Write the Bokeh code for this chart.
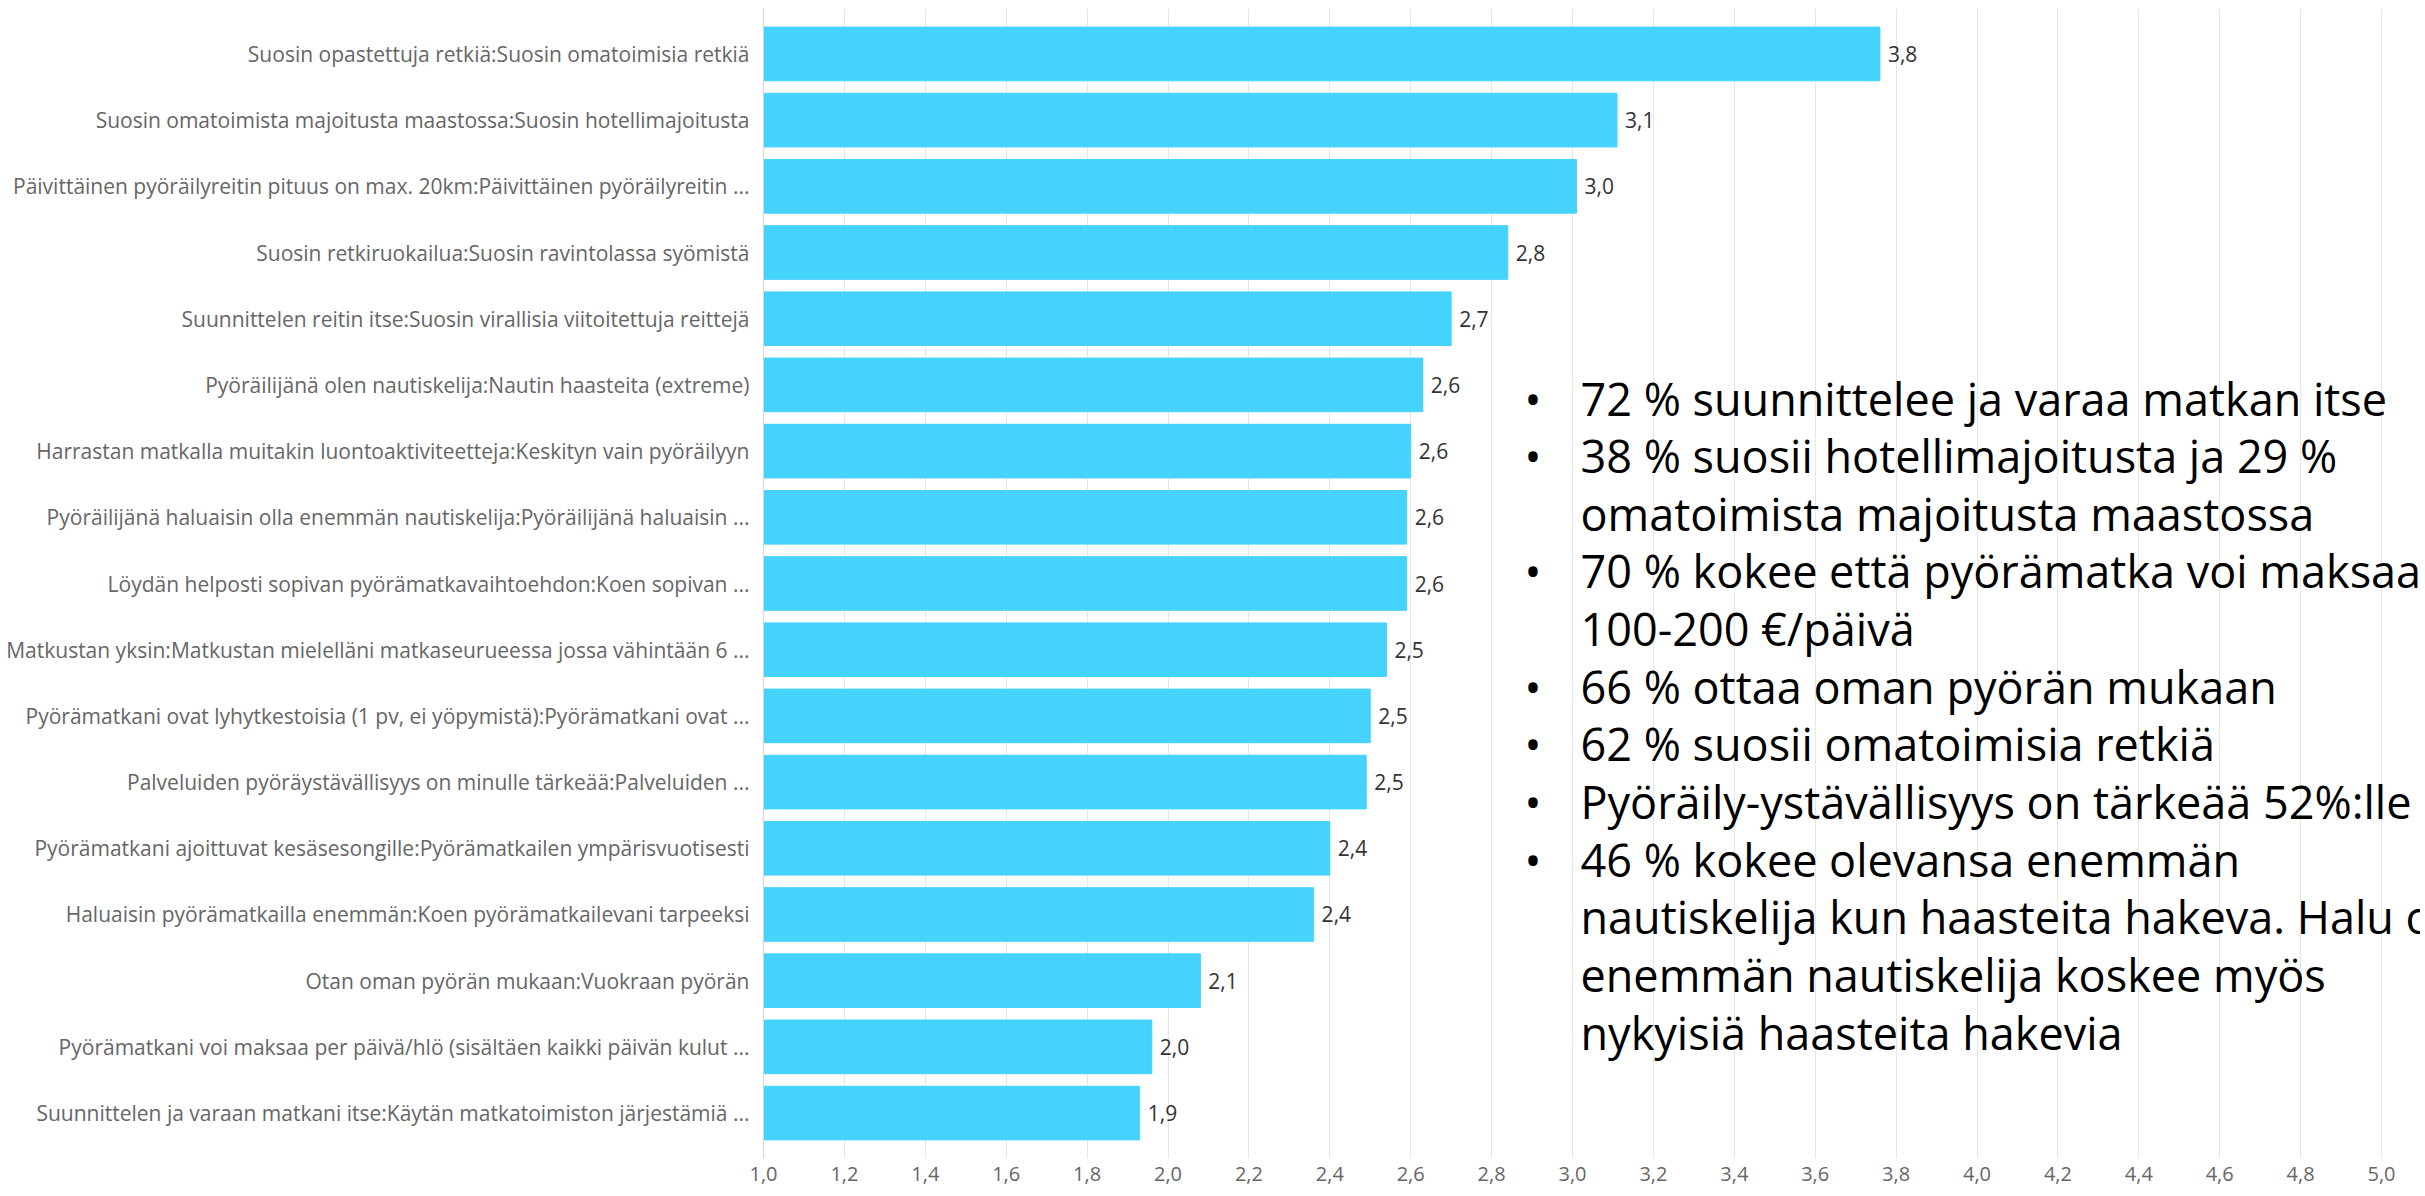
from bokeh.plotting import figure
from bokeh.models import FactorRange, Range1d, Label, FixedTicker, CustomJSTickFormatter, ColumnDataSource
from bokeh.core.properties import value
from bokeh.embed import file_html
from bokeh.resources import INLINE

# ---- data (top to bottom as in the chart) ----
categories = [
    "Suosin opastettuja retkiä:Suosin omatoimisia retkiä",
    "Suosin omatoimista majoitusta maastossa:Suosin hotellimajoitusta",
    "Päivittäinen pyöräilyreitin pituus on max. 20km:Päivittäinen pyöräilyreitin ...",
    "Suosin retkiruokailua:Suosin ravintolassa syömistä",
    "Suunnittelen reitin itse:Suosin virallisia viitoitettuja reittejä",
    "Pyöräilijänä olen nautiskelija:Nautin haasteita (extreme)",
    "Harrastan matkalla muitakin luontoaktiviteetteja:Keskityn vain pyöräilyyn",
    "Pyöräilijänä haluaisin olla enemmän nautiskelija:Pyöräilijänä haluaisin ...",
    "Löydän helposti sopivan pyörämatkavaihtoehdon:Koen sopivan ...",
    "Matkustan yksin:Matkustan mielelläni matkaseurueessa jossa vähintään 6 ...",
    "Pyörämatkani ovat lyhytkestoisia (1 pv, ei yöpymistä):Pyörämatkani ovat ...",
    "Palveluiden pyöräystävällisyys on minulle tärkeää:Palveluiden ...",
    "Pyörämatkani ajoittuvat kesäsesongille:Pyörämatkailen ympärisvuotisesti",
    "Haluaisin pyörämatkailla enemmän:Koen pyörämatkailevani tarpeeksi",
    "Otan oman pyörän mukaan:Vuokraan pyörän",
    "Pyörämatkani voi maksaa per päivä/hlö (sisältäen kaikki päivän kulut ...",
    "Suunnittelen ja varaan matkani itse:Käytän matkatoimiston järjestämiä ...",
]
values = [3.76, 3.11, 3.01, 2.84, 2.70, 2.63, 2.60, 2.59, 2.59, 2.54, 2.50, 2.49, 2.40, 2.36, 2.08, 1.96, 1.93]
x_ticks = [1.0, 1.2, 1.4, 1.6, 1.8, 2.0, 2.2, 2.4, 2.6, 2.8, 3.0, 3.2, 3.4, 3.6, 3.8, 4.0, 4.2, 4.4, 4.6, 4.8, 5.0]

bullet_lines = [
    "72 % suunnittelee ja varaa matkan itse",
    "38 % suosii hotellimajoitusta ja 29 %",
    "omatoimista majoitusta maastossa",
    "70 % kokee että pyörämatka voi maksaa",
    "100-200 €/päivä",
    "66 % ottaa oman pyörän mukaan",
    "62 % suosii omatoimisia retkiä",
    "Pyöräily-ystävällisyys on tärkeää 52%:lle",
    "46 % kokee olevansa enemmän",
    "nautiskelija kun haasteita hakeva. Halu olla",
    "enemmän nautiskelija koskee myös",
    "nykyisiä haasteita hakevia",
]
bullet_marks = [True, True, False, True, False, True, True, True, True, False, False, False]

value_labels = [f"{v:.1f}".replace(".", ",") for v in values]

source = ColumnDataSource(dict(cat=categories, val=values, lbl=value_labels))

# axis 1.0 .. 5.0 spans 1618 px; the frame runs on to the page edge so the
# text block is not clipped at 5.0
px_per_unit = 1618 / 4.0
frame_w = 1657

p = figure(
    y_range=FactorRange(factors=list(reversed(categories)), range_padding=0.0219),
    x_range=Range1d(1.0, 1.0 + frame_w / px_per_unit),
    frame_width=frame_w, frame_height=1150,
    min_border_left=763, min_border_right=0, min_border_top=8, min_border_bottom=30,
    output_backend="svg", toolbar_location=None,
)

p.hbar(y="cat", left=1.0, right="val", height=0.81, source=source,
       fill_color="#45D3FC", line_color="#45D3FC", line_width=1)
p.text(x="val", y="cat", text="lbl", source=source, x_offset=8,
       text_baseline="middle", text_align="left",
       text_font=value("Open Sans"), text_font_size="21px", text_color="#333333")

p.outline_line_color = None
p.background_fill_color = "white"
p.border_fill_color = "white"

p.xaxis.ticker = FixedTicker(ticks=x_ticks)
p.xaxis.formatter = CustomJSTickFormatter(code="return tick.toFixed(1).replace('.', ',');")
p.xaxis.axis_line_color = None
p.xaxis.major_tick_line_color = None
p.xaxis.minor_tick_line_color = None
p.xaxis.major_label_text_font = "Open Sans"
p.xaxis.major_label_text_font_size = "20px"
p.xaxis.major_label_text_color = "#666666"
p.xaxis.major_label_standoff = 2

p.xgrid.ticker = FixedTicker(ticks=x_ticks)
p.xgrid.grid_line_color = "#e6e6e6"
p.xgrid.grid_line_width = 1
p.ygrid.grid_line_color = None

p.yaxis.axis_line_color = "#d6d6d6"
p.yaxis.major_tick_line_color = None
p.yaxis.minor_tick_line_color = None
p.yaxis.major_label_text_font = "Open Sans"
p.yaxis.major_label_text_font_size = "21px"
p.yaxis.major_label_text_color = "#666666"
p.yaxis.major_label_standoff = 8

# bullet text block (screen units relative to the plot frame)
top_sy = 760.5
step = 57.65
for i, (line, mark) in enumerate(zip(bullet_lines, bullet_marks)):
    sy = top_sy - i * step
    if mark:
        p.add_layout(Label(x=761, y=sy, x_units="screen", y_units="screen", text="•",
                           text_font="Open Sans", text_font_size="45px", text_color="black",
                           text_baseline="middle", text_align="left"))
    p.add_layout(Label(x=817, y=sy, x_units="screen", y_units="screen", text=line,
                       text_font="Open Sans", text_font_size="45px", text_color="black",
                       text_baseline="middle", text_align="left"))

open("out.html", "w").write(file_html(p, INLINE))
